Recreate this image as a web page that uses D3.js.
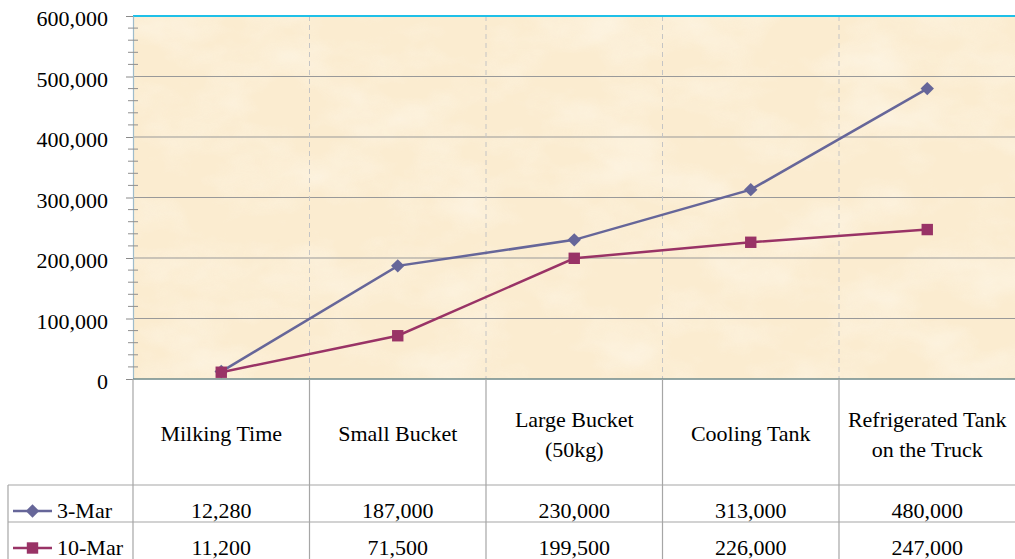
<!DOCTYPE html>
<html>
<head>
<meta charset="utf-8">
<script src="https://cdn.jsdelivr.net/npm/d3@7"></script>
<style>
  html, body { margin: 0; padding: 0; background: #ffffff; }
  svg { display: block; }
  text { font-family: "Liberation Serif", "Times New Roman", serif; fill: #000; }
</style>
</head>
<body>
<svg id="chart" width="1015" height="559"></svg>
<script>
// Milk handling stages and measured counts on two sampling dates
const categories = ["Milking Time", "Small Bucket", "Large Bucket (50kg)", "Cooling Tank", "Refrigerated Tank on the Truck"];
const categoryLines = [["Milking Time"], ["Small Bucket"], ["Large Bucket", "(50kg)"], ["Cooling Tank"], ["Refrigerated Tank", "on the Truck"]];
const seriesNames = ["3-Mar", "10-Mar"];
const mar3 = [12280, 187000, 230000, 313000, 480000];
const mar10 = [11200, 71500, 199500, 226000, 247000];
const yTicks = [0, 100000, 200000, 300000, 400000, 500000, 600000];

const series = [
  { name: seriesNames[0], values: mar3, color: "#666699", marker: "diamond" },
  { name: seriesNames[1], values: mar10, color: "#993366", marker: "square" }
];

const svg = d3.select("#chart");
const plot = { left: 133, right: 1015.5, top: 16, bottom: 379 };
const table = { left: 8, headerBottom: 485, rowH: 37 };

const x = d3.scaleBand().domain(categories).range([plot.left, plot.right]).paddingInner(0).paddingOuter(0);
const y = d3.scaleLinear().domain([0, 600000]).range([plot.bottom, plot.top]);
const fmt = d3.format(",");

// parchment-like background
const defs = svg.append("defs");
const filt = defs.append("filter").attr("id", "parchment")
  .attr("x", 0).attr("y", 0).attr("width", "100%").attr("height", "100%");
filt.append("feTurbulence").attr("type", "fractalNoise")
  .attr("baseFrequency", "0.012 0.02").attr("numOctaves", 4).attr("seed", 7).attr("result", "noise");
filt.append("feColorMatrix").attr("in", "noise").attr("type", "matrix")
  .attr("values", "0 0 0 0 1  0 0 0 0 0.98  0 0 0 0 0.93  1.1 0 0 0 -0.45");

svg.append("rect")
  .attr("x", plot.left).attr("y", plot.top)
  .attr("width", plot.right - plot.left).attr("height", plot.bottom - plot.top)
  .attr("fill", "#fbecd0");
svg.append("rect")
  .attr("x", plot.left).attr("y", plot.top)
  .attr("width", plot.right - plot.left).attr("height", plot.bottom - plot.top)
  .attr("filter", "url(#parchment)").attr("opacity", 0.8);

// horizontal gridlines
svg.append("g").selectAll("line").data(yTicks.filter(d => d > 0 && d < 600000)).join("line")
  .attr("x1", plot.left).attr("x2", plot.right)
  .attr("y1", d => y(d)).attr("y2", d => y(d))
  .attr("stroke", "#999999").attr("stroke-width", 1);

// dashed category separators
const bounds = categories.slice(1).map(c => x(c));
svg.append("g").selectAll("line").data(bounds).join("line")
  .attr("x1", d => d).attr("x2", d => d)
  .attr("y1", plot.top).attr("y2", plot.bottom)
  .attr("stroke", "#c4c4c4").attr("stroke-width", 1).attr("stroke-dasharray", "5,4");

// top border
svg.append("line").attr("x1", plot.left).attr("x2", plot.right)
  .attr("y1", plot.top).attr("y2", plot.top)
  .attr("stroke", "#1fc0e8").attr("stroke-width", 2);

// y axis
const yAxis = d3.axisLeft(y).tickValues(yTicks).tickFormat(fmt).tickSize(7).tickSizeOuter(0);
const gy = svg.append("g").attr("transform", `translate(${plot.left},0)`).call(yAxis);
gy.select(".domain").attr("stroke", "#9fbccb").attr("stroke-width", 1.2);
gy.selectAll(".tick line").attr("stroke", "#8a8a8a");
gy.selectAll(".tick text")
  .attr("x", -25).attr("dy", "0.45em")
  .style("font-size", "22px").style("font-family", "Liberation Serif, serif").attr("fill", "#000");

// minor ticks crossing the axis
const minor = d3.range(0, 600001, 20000).filter(v => v % 100000 !== 0);
svg.append("g").selectAll("line").data(minor).join("line")
  .attr("x1", plot.left - 5).attr("x2", plot.left + 5)
  .attr("y1", d => y(d)).attr("y2", d => y(d))
  .attr("stroke", "#8f8f8f").attr("stroke-width", 1);

// x axis baseline
svg.append("line").attr("x1", plot.left).attr("x2", plot.right)
  .attr("y1", plot.bottom).attr("y2", plot.bottom)
  .attr("stroke", "#6f8a8a").attr("stroke-width", 1.5);

// series lines and markers
const line = d3.line().x((d, i) => x(categories[i]) + x.bandwidth() / 2).y(d => y(d));
const diamond = d3.symbol().type(d3.symbolDiamond2 || d3.symbolDiamond).size(115);
const square = d3.symbol().type(d3.symbolSquare).size(130);

series.forEach(s => {
  svg.append("path").datum(s.values)
    .attr("d", line).attr("fill", "none")
    .attr("stroke", s.color).attr("stroke-width", 2.5);
  svg.append("g").selectAll("path").data(s.values).join("path")
    .attr("transform", (d, i) => `translate(${x(categories[i]) + x.bandwidth() / 2},${y(d)})`)
    .attr("d", s.marker === "diamond" ? diamond : square)
    .attr("fill", s.color);
});

// data table grid
const tg = svg.append("g").attr("stroke", "#a6a6a6").attr("stroke-width", 1.2);
[plot.left, ...bounds].forEach(bx => {
  tg.append("line").attr("x1", bx).attr("x2", bx).attr("y1", plot.bottom).attr("y2", 559);
});
tg.append("line").attr("x1", table.left).attr("x2", table.left).attr("y1", table.headerBottom).attr("y2", 559);
[table.headerBottom, table.headerBottom + table.rowH].forEach(ly => {
  tg.append("line").attr("x1", table.left).attr("x2", plot.right).attr("y1", ly).attr("y2", ly);
});

// category header labels
categories.forEach((c, i) => {
  const lines = categoryLines[i];
  const cx = x(c) + x.bandwidth() / 2;
  const base = lines.length === 1 ? 441 : 427;
  lines.forEach((t, k) => {
    svg.append("text").attr("x", cx).attr("y", base + k * 30)
      .attr("text-anchor", "middle").style("font-size", "22px").text(t);
  });
});

// value rows with legend keys
series.forEach((s, r) => {
  const baseY = table.headerBottom + r * table.rowH + 33;
  const midY = table.headerBottom + r * table.rowH + 26;
  svg.append("line").attr("x1", 13).attr("x2", 52).attr("y1", midY).attr("y2", midY)
    .attr("stroke", s.color).attr("stroke-width", 2.5);
  svg.append("path").attr("transform", `translate(32.5,${midY})`)
    .attr("d", s.marker === "diamond" ? diamond : square).attr("fill", s.color);
  svg.append("text").attr("x", 57).attr("y", baseY).style("font-size", "22px").text(s.name);
  s.values.forEach((v, i) => {
    svg.append("text").attr("x", x(categories[i]) + x.bandwidth() / 2).attr("y", baseY)
      .attr("text-anchor", "middle").style("font-size", "22px").text(fmt(v));
  });
});
</script>
</body>
</html>
